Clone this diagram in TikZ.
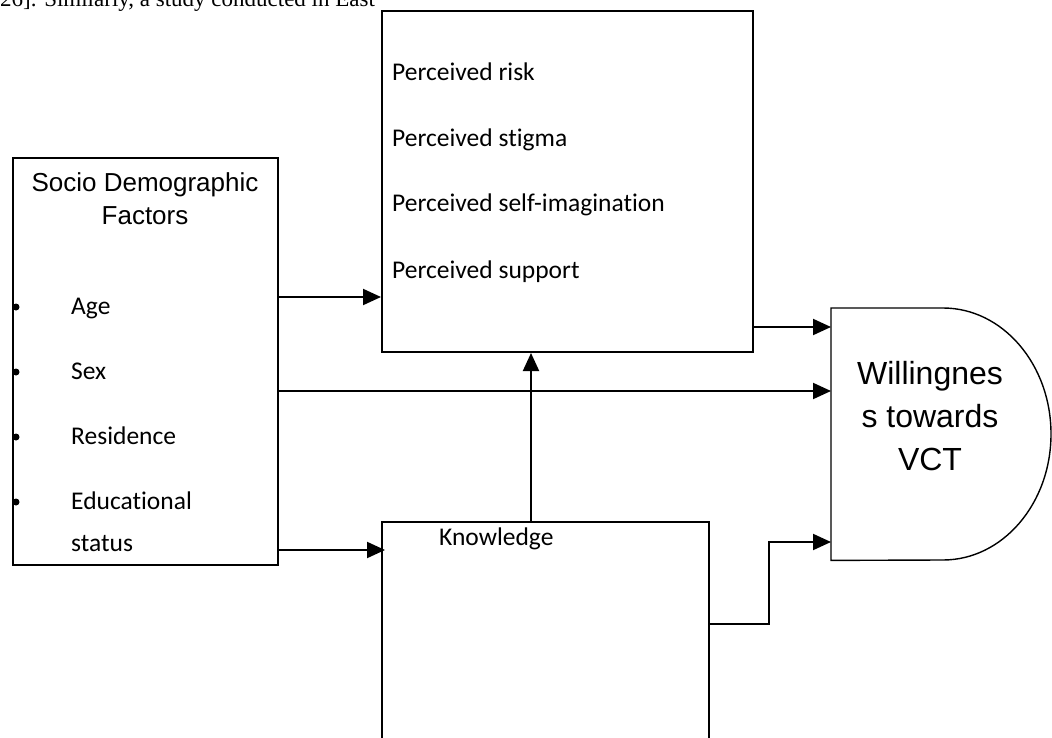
\documentclass[tikz,border=0pt]{standalone}
\usepackage{fontspec}
\setmainfont{Carlito}[Ligatures=NoCommon,RawFeature={-liga;-clig}]
\newfontfamily\robfont{Liberation Sans}
\newfontfamily\tmsfont{Liberation Serif}
\usetikzlibrary{arrows.meta,calc}
\begin{document}
\begin{tikzpicture}[x=1pt,y=-1pt,
  boxshape/.style={draw,line width=2pt,inner sep=0pt,anchor=north west},
  conn/.style={line width=2pt},
  arr/.style={conn,-{Triangle[length=18pt,width=16pt]}},
  itemtxt/.style={anchor=base west,inner sep=0pt,font=\fontsize{25.5}{30}\selectfont},
  headtxt/.style={anchor=base,inner sep=0pt,font=\robfont\fontsize{26}{30}\selectfont},
  willtxt/.style={anchor=base,inner sep=0pt,font=\robfont\fontsize{32}{40}\selectfont},
  bullet/.style={circle,fill=black,inner sep=0pt,minimum size=7pt},
]
\useasboundingbox (0,0) rectangle (1052,738);
\clip (0,0) rectangle (1052,738);

% top cropped text line
\node[anchor=base west,inner sep=0pt,font=\tmsfont\fontsize{23}{28}\selectfont] (toptxt) at (0,7) {26]. Similarly, a study conducted in East};

% boxes
\node[boxshape,minimum width=265pt,minimum height=407pt] (socio) at (12,157) {};
\node[boxshape,minimum width=371pt,minimum height=341pt] (perc) at (381,10) {};
\node[boxshape,minimum width=327pt,minimum height=260pt] (know) at (381,521) {};
\node[inner sep=0pt,anchor=north west,minimum width=220pt,minimum height=252pt] (will) at (831,308) {};
\draw[line width=1.4pt] (will.north west) -- ++(112pt,0pt)
  arc[start angle=90,end angle=-90,x radius=108pt,y radius=126pt]
  -- (will.south west) -- cycle;

% socio texts
\node[headtxt] (soc1) at (145,192) {Socio Demographic};
\node[headtxt] (soc2) at (145,225) {Factors};
\node[itemtxt] (age) at (71,314) {Age};
\node[itemtxt] (sex) at (71,379) {Sex};
\node[itemtxt] (res) at (71,444) {Residence};
\node[itemtxt] (edu) at (71,509) {Educational};
\node[itemtxt] (stat) at (71,551) {status};
\node[bullet] (b1) at (16,307) {};
\node[bullet] (b2) at (16,372) {};
\node[bullet] (b3) at (16,437) {};
\node[bullet] (b4) at (16,502) {};

% perceived texts
\node[itemtxt] (p1) at (392,81) {Perceived risk};
\node[itemtxt] (p2) at (392,147) {Perceived stigma};
\node[itemtxt] (p3) at (392,212) {Perceived self-imagination};
\node[itemtxt] (p4) at (392,278) {Perceived support};

% knowledge text
\node[itemtxt] (kt) at (439,545) {Knowledge};

% willingness text
\node[willtxt] (w1) at (930,384) {Willingnes};
\node[willtxt] (w2) at (930,427) {s towards};
\node[willtxt] (w3) at (930,470) {VCT};

% connectors
\coordinate (bend) at (769,542);
\draw[arr] (socio.east |- 0,297) -- (perc.west |- 0,297);
\draw[arr] (socio.east |- 0,391) -- (will.west |- 0,391);
\draw[arr] (socio.east |- 0,550) -- ($(know.west |- 0,550)+(4pt,0pt)$);
\draw[arr] (know.north -| 531,0) -- (perc.south -| 531,0);
\draw[arr] (perc.east |- 0,327) -- (will.west |- 0,327);
\draw[arr] (know.east |- 0,624) -| (bend) -- (will.west |- bend);
\end{tikzpicture}
\end{document}
